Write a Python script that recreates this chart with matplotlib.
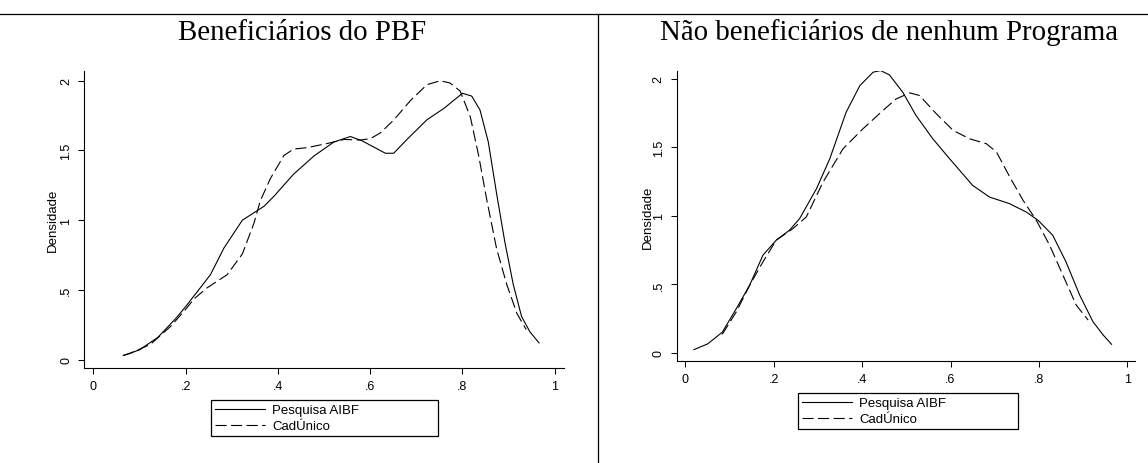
import matplotlib
matplotlib.use("Agg")
import matplotlib.pyplot as plt
from matplotlib.lines import Line2D

# valores
pbf_x_pesq = [0.065, 0.10, 0.14, 0.18, 0.20, 0.233, 0.254, 0.283, 0.323, 0.37, 0.391, 0.434,
              0.478, 0.521, 0.557, 0.582, 0.633, 0.651, 0.680, 0.723, 0.759, 0.800, 0.820,
              0.838, 0.856, 0.874, 0.892, 0.910, 0.928, 0.946, 0.966]
pbf_y_pesq = [0.03, 0.07, 0.16, 0.30, 0.38, 0.52, 0.61, 0.80, 1.0, 1.10, 1.17, 1.33,
              1.46, 1.56, 1.60, 1.57, 1.48, 1.48, 1.58, 1.72, 1.80, 1.91, 1.89,
              1.79, 1.56, 1.19, 0.84, 0.54, 0.31, 0.20, 0.12]

pbf_x_cad = [0.065, 0.08, 0.124, 0.168, 0.20, 0.218, 0.247, 0.290, 0.323, 0.348, 0.362, 0.384,
             0.413, 0.434, 0.463, 0.507, 0.543, 0.579, 0.600, 0.622, 0.651, 0.687, 0.723,
             0.752, 0.773, 0.795, 0.817, 0.835, 0.853, 0.874, 0.896, 0.918, 0.938]
pbf_y_cad = [0.03, 0.045, 0.11, 0.24, 0.36, 0.435, 0.516, 0.609, 0.758, 0.977, 1.14, 1.30,
             1.464, 1.51, 1.52, 1.55, 1.579, 1.575, 1.584, 1.626, 1.718, 1.857, 1.972,
             2.0, 1.984, 1.926, 1.741, 1.464, 1.14, 0.795, 0.539, 0.331, 0.216]

nao_x_pesq = [0.020, 0.051, 0.084, 0.116, 0.146, 0.176, 0.206, 0.236, 0.259, 0.297, 0.327,
              0.364, 0.395, 0.425, 0.442, 0.462, 0.492, 0.522, 0.560, 0.598, 0.650, 0.688,
              0.733, 0.771, 0.798, 0.831, 0.861, 0.892, 0.922, 0.945, 0.964]
nao_y_pesq = [0.024, 0.066, 0.151, 0.325, 0.495, 0.714, 0.823, 0.896, 0.981, 1.199, 1.417,
              1.757, 1.951, 2.049, 2.061, 2.029, 1.903, 1.733, 1.563, 1.417, 1.223, 1.138,
              1.090, 1.029, 0.968, 0.859, 0.665, 0.422, 0.228, 0.131, 0.063]

nao_x_cad = [0.084, 0.116, 0.146, 0.176, 0.206, 0.244, 0.274, 0.312, 0.357, 0.402, 0.447,
             0.477, 0.508, 0.530, 0.568, 0.606, 0.643, 0.681, 0.704, 0.734, 0.764, 0.794,
             0.824, 0.854, 0.884, 0.911]
nao_y_cad = [0.136, 0.301, 0.495, 0.665, 0.823, 0.908, 0.993, 1.248, 1.490, 1.636, 1.769,
             1.854, 1.898, 1.879, 1.745, 1.624, 1.563, 1.527, 1.466, 1.284, 1.114, 0.968,
             0.786, 0.568, 0.350, 0.240]

titulos = ["Beneficiários do PBF", "Não beneficiários de nenhum Programa"]
legenda = ["Pesquisa AIBF", "CadÚnico"]
xticks = [0, 0.2, 0.4, 0.6, 0.8, 1]
xticklabels = ["0", ".2", ".4", ".6", ".8", "1"]
yticks = [0, 0.5, 1, 1.5, 2]
yticklabels = ["0", ".5", "1", "1.5", "2"]

W, H = 1148, 464
fig = plt.figure(figsize=(W / 100, H / 100), dpi=100)
plt.rcParams['font.family'] = 'Liberation Sans'

def fx(px):
    return px / W

def fy(py):
    return 1 - py / H

# moldura
fig.add_artist(Line2D([0, 1], [fy(14.5), fy(14.5)], transform=fig.transFigure, color='black', lw=0.9))
fig.add_artist(Line2D([fx(598), fx(598)], [fy(14.5), 0], transform=fig.transFigure, color='black', lw=0.9))

paineis = [
    dict(rect=[fx(84.3), fy(369.3), fx(564 - 84.3), (369.3 - 71.7) / H],
         xlim=(-0.0195, 1.02), ylim=(-0.062, 2.072),
         dados=[(pbf_x_pesq, pbf_y_pesq), (pbf_x_cad, pbf_y_cad)],
         titulo_x=302, leg=(211, 401, 227, 36), ylab_x=-0.052),
    dict(rect=[fx(676.7), fy(362.3), fx(1135 - 676.7), (362.3 - 71.7) / H],
         xlim=(-0.019, 1.017), ylim=(-0.061, 2.06),
         dados=[(nao_x_pesq, nao_y_pesq), (nao_x_cad, nao_y_cad)],
         titulo_x=889, leg=(798, 394, 220, 36), ylab_x=-0.049),
]

for p, titulo in zip(paineis, titulos):
    ax = fig.add_axes(p['rect'])
    (x1, y1), (x2, y2) = p['dados']
    ax.plot(x1, y1, color='black', lw=0.8, label=legenda[0])
    ax.plot(x2, y2, color='black', lw=0.8, linestyle=(0, (10, 4)), label=legenda[1])
    ax.set_xlim(*p['xlim'])
    ax.set_ylim(*p['ylim'])
    ax.set_xticks(xticks)
    ax.set_xticklabels(xticklabels)
    ax.set_yticks(yticks)
    ax.set_yticklabels(yticklabels, rotation=90, va='center')
    ax.tick_params(direction='out', length=4.2, width=0.75, labelsize=9, pad=4.5, colors='black')
    for s in ['top', 'right']:
        ax.spines[s].set_visible(False)
    for s in ['left', 'bottom']:
        ax.spines[s].set_linewidth(0.8)
    ax.set_ylabel('Densidade', fontsize=9.5)
    ax.yaxis.set_label_coords(p['ylab_x'], 0.5)

    fig.text(fx(p['titulo_x']), fy(33), titulo, ha='center', va='center',
             fontsize=20.8, family='Liberation Serif')

    lx, ly, lw, lh = p['leg']
    leg = ax.legend(loc='upper left', mode='expand',
                    bbox_to_anchor=(fx(lx), fy(ly + lh), fx(lw), lh / H),
                    bbox_transform=fig.transFigure, borderaxespad=0,
                    fontsize=9.5, handlelength=3.8, handletextpad=0.55,
                    labelspacing=0.3, borderpad=0.3, fancybox=False,
                    frameon=True, edgecolor='black', framealpha=1)
    leg.get_frame().set_linewidth(0.9)

fig.savefig('out.png', dpi=100)
